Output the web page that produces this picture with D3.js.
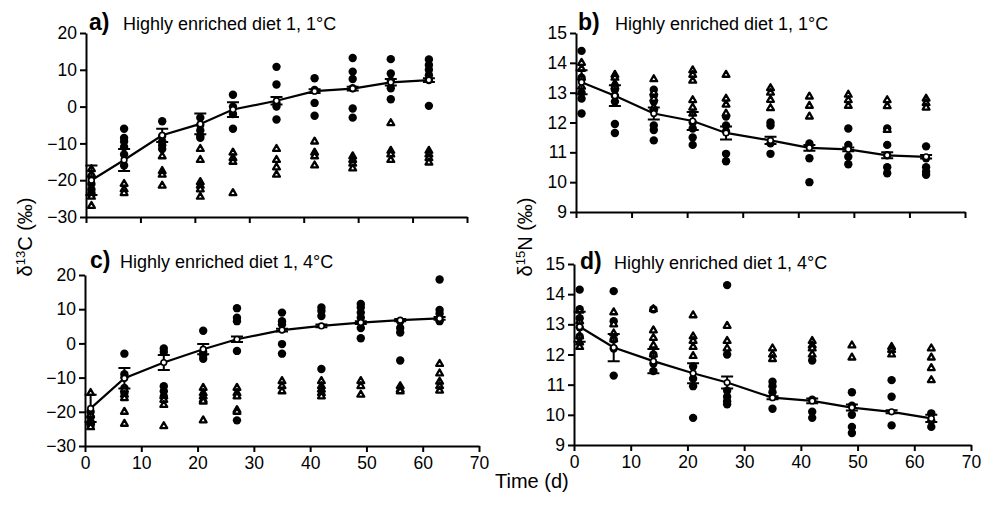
<!DOCTYPE html>
<html>
<head>
<meta charset="utf-8">
<script src="https://cdn.jsdelivr.net/npm/d3@7"></script>
<style>
  body { margin: 0; background: #fff; }
  svg text { font-family: "Liberation Sans", Arial, sans-serif; fill: #000; }
</style>
</head>
<body>
<div id="chart"></div>
<script>
// sampling days
const days = [1, 7, 14, 21, 27, 35, 42, 49, 56, 63];

// a) d13C, 1 C
const aMean = [-20, -14.5, -7.8, -4.7, -0.8, 1.6, 4.2, 4.9, 6.6, 7.2];
const aErr = [4, 3, 1.8, 2.8, 2, 1, 0.5, 0.5, 0.9, 0.5];
const aCircles = [
  [-19, -21, -22.5, -23.5, -24],
  [-6, -8.5, -9.5, -11, -13, -16],
  [-4, -8, -9.5, -10.5, -11.5],
  [-3, -5, -6.5, -8, -8.5],
  [3.2, 0, -2, -6],
  [10.8, 6, 1, 0, -3.5],
  [7.7, 4.5, 1, -2.5],
  [13.2, 9.5, 7.5, 5, -0.5, -3],
  [12.9, 9, 7, 5, 2],
  [12.8, 11.3, 10, 8.5, 7.2, 0.2]
];
const aTriangles = [
  [-17, -18.5, -24.5, -27],
  [-21, -22.5, -23.5],
  [-13.5, -17.5, -18.5, -21.5],
  [-11.5, -14.5, -20.5, -21.5, -22.5, -24.5],
  [-12.5, -14, -15, -23.5],
  [-11.5, -14.5, -16.5, -18.5],
  [-9.5, -12.5, -13.5, -16],
  [-13.5, -14.5, -15.5, -16.8],
  [-4.5, -12, -13, -14.5],
  [-12, -13, -14, -15.2]
];

// b) d15N, 1 C
const bMean = [13.35, 12.9, 12.3, 12.05, 11.65, 11.4, 11.15, 11.1, 10.9, 10.85];
const bErr = [0.4, 0.35, 0.2, 0.3, 0.22, 0.12, 0.1, 0.06, 0.1, 0.06];
const bCircles = [
  [14.4, 13.5, 13.0, 12.8, 12.3],
  [13.1, 12.9, 12.7, 11.95, 11.65],
  [13.1, 12.9, 12.7, 12.4, 11.9, 11.75, 11.4],
  [12.0, 11.8, 11.5, 11.25],
  [12.2, 11.9, 11.7, 10.95, 10.7],
  [12.0, 11.9, 11.3, 10.95],
  [11.3, 11.2, 10.8, 10.0],
  [11.8, 11.25, 10.85, 10.6],
  [11.8, 11.25, 10.9, 10.5, 10.3],
  [11.2, 10.8, 10.5, 10.35, 10.25]
];
const bTriangles = [
  [14.0, 13.8, 13.5, 13.2],
  [13.6, 13.5, 13.3, 13.2],
  [13.45, 13.0, 12.8, 12.5],
  [13.75, 13.6, 13.4, 12.75, 12.5, 12.3],
  [13.6, 12.8, 12.6, 12.3],
  [13.15, 13.0, 12.76, 12.48],
  [12.87, 12.56, 12.2],
  [12.93, 12.75, 12.56],
  [12.75, 12.55, 11.75],
  [12.8, 12.65, 12.5]
];

// c) d13C, 4 C
const cMean = [-19, -10.2, -5.6, -1.7, 1.2, 3.9, 5.1, 6.1, 6.8, 7.3];
const cErr = [4, 3, 2.2, 1.5, 0.8, 0.4, 0.4, 0.4, 0.3, 0.4];
const cCircles = [
  [-20, -21.5, -23, -24],
  [-3, -9, -10, -13, -14.5],
  [-1.5, -2.5, -12.5, -14, -15.5],
  [3.7, -2.5, -3.5, -4.5],
  [10.3, 7.5, 6.5, -2.2, -22.5],
  [9, 6.5, 5.5, -0.2, -3],
  [10.5, 9.5, 8, -7.5],
  [11.5, 10.5, 9, 7.5, 4.5, 1.5],
  [6.5, 4.5, 3.2, -5],
  [18.7, 9.8, 8.7, 7, 6.5]
];
const cTriangles = [
  [-14.5, -21, -23, -24.5],
  [-13.5, -15, -16, -20, -23.5],
  [-15.5, -16.5, -18, -24.2],
  [-13, -14.5, -15.5, -16.5, -17, -22.5],
  [-13, -14.5, -15.5, -19.5, -20],
  [-11, -12.5, -14],
  [-11, -12.5, -13.5, -14.5, -15.5],
  [-11, -12.5, -15],
  [-12.5, -13.5, -14],
  [-6, -8.8, -11.2, -12.5, -13.8]
];

// d) d15N, 4 C
const dMean = [12.92, 12.23, 11.78, 11.38, 11.07, 10.57, 10.46, 10.24, 10.1, 9.88];
const dErr = [0.5, 0.45, 0.4, 0.33, 0.2, 0.05, 0.08, 0.1, 0.05, 0.12];
const dCircles = [
  [14.15, 13.5, 13.2, 12.9, 12.6],
  [14.1, 13.1, 12.5, 12.2, 11.3],
  [13.5, 12.0, 11.7, 11.45],
  [11.6, 11.2, 10.95, 9.9],
  [14.3, 12.0, 10.8, 10.6, 10.45, 10.35],
  [11.1, 10.95, 10.75, 10.2],
  [11.8, 10.5, 10.1, 9.9],
  [10.75, 10.3, 10.0, 9.6, 9.4],
  [11.15, 10.6, 9.65],
  [10.05, 9.8, 9.6]
];
const dTriangles = [
  [13.45, 13.1, 12.6, 12.4, 12.25],
  [13.4, 13.0, 12.7, 12.5],
  [13.5, 12.8, 12.55, 12.3, 12.0],
  [13.3, 12.6, 12.45, 12.25, 11.95],
  [12.95, 12.45, 12.2],
  [12.2, 12.0, 11.85],
  [12.45, 12.3, 12.2, 12.0],
  [12.3, 11.9],
  [12.25, 12.15, 12.0],
  [12.2, 11.9, 11.55, 11.15]
];

const xTicks = [0, 10, 20, 30, 40, 50, 60, 70];

const width = 982, height = 505;
const svg = d3.select("#chart").append("svg")
  .attr("width", width)
  .attr("height", height);

// one panel = one block of scales, axes and marks
function drawPanel(p) {
  const x = d3.scaleLinear().domain([0, 70]).range([p.x0, p.x1]);
  const y = d3.scaleLinear().domain(p.yDomain).range([p.y0, p.y1]);
  const g = svg.append("g");

  const yAxis = g.append("g")
    .attr("transform", `translate(${p.x0},0)`)
    .call(d3.axisLeft(y).tickValues(p.yTicks).tickFormat(d3.format("d"))
      .tickSize(6).tickPadding(3).tickSizeOuter(0));
  const xAxis = g.append("g")
    .attr("transform", `translate(0,${p.y0})`)
    .call(d3.axisBottom(x).tickValues(xTicks).tickSize(6).tickPadding(5).tickSizeOuter(0));
  if (!p.xLabels) xAxis.selectAll("text").remove();
  [xAxis, yAxis].forEach(a => {
    a.selectAll("path, line").attr("stroke", "#000").attr("stroke-width", 2);
    a.selectAll("text").style("font-size", "17.5px").attr("fill", "#000");
  });

  // raw points
  const circ = [], tri = [];
  days.forEach((d, i) => {
    p.circles[i].forEach(v => circ.push({d, v}));
    p.triangles[i].forEach(v => tri.push({d, v}));
  });
  g.selectAll(".dot").data(circ).join("circle")
    .attr("cx", e => x(e.d)).attr("cy", e => y(e.v))
    .attr("r", 4.2).attr("fill", "#000");
  const triPath = d3.symbol(d3.symbolTriangle, 20)();
  g.selectAll(".tri").data(tri).join("path")
    .attr("d", triPath)
    .attr("transform", e => `translate(${x(e.d)},${y(e.v)})`)
    .attr("fill", "#fff").attr("stroke", "#000").attr("stroke-width", 2.3)
    .attr("stroke-linejoin", "round");

  // error bars
  const eb = days.map((d, i) => ({d, m: p.mean[i], e: p.err[i]}));
  g.selectAll(".eb").data(eb).join("path")
    .attr("d", e => {
      const cx = x(e.d), hi = y(e.m + e.e), lo = y(e.m - e.e);
      return `M${cx},${hi}V${lo}M${cx - 6},${hi}H${cx + 6}M${cx - 6},${lo}H${cx + 6}`;
    })
    .attr("stroke", "#000").attr("stroke-width", 2).attr("fill", "none");

  // mean line
  g.append("path").datum(eb)
    .attr("d", d3.line().x(e => x(e.d)).y(e => y(e.m)))
    .attr("fill", "none").attr("stroke", "#000").attr("stroke-width", 2.2);
  g.selectAll(".mean").data(eb).join("circle")
    .attr("cx", e => x(e.d)).attr("cy", e => y(e.m))
    .attr("r", 2.8).attr("fill", "#fff").attr("stroke", "#000").attr("stroke-width", 1.6);

  // panel title
  g.append("text").attr("x", p.tx).attr("y", p.ty)
    .style("font-size", "23px").style("font-weight", "bold").text(p.letter);
  g.append("text").attr("x", p.tx2).attr("y", p.ty)
    .style("font-size", "18px").text(p.title);
}

drawPanel({x0: 86, x1: 467, y0: 217, y1: 33, yDomain: [-30, 20], yTicks: [-30, -20, -10, 0, 10, 20],
  mean: aMean, err: aErr, circles: aCircles, triangles: aTriangles, xLabels: false,
  letter: "a)", title: "Highly enriched diet 1, 1°C", tx: 89, tx2: 123, ty: 30});
drawPanel({x0: 576, x1: 965, y0: 212, y1: 33, yDomain: [9, 15], yTicks: [9, 10, 11, 12, 13, 14, 15],
  mean: bMean, err: bErr, circles: bCircles, triangles: bTriangles, xLabels: false,
  letter: "b)", title: "Highly enriched diet 1, 1°C", tx: 578, tx2: 615, ty: 30});
drawPanel({x0: 85, x1: 479, y0: 446, y1: 275, yDomain: [-30, 20], yTicks: [-30, -20, -10, 0, 10, 20],
  mean: cMean, err: cErr, circles: cCircles, triangles: cTriangles, xLabels: true,
  letter: "c)", title: "Highly enriched diet 1, 4°C", tx: 90, tx2: 120, ty: 268});
drawPanel({x0: 574, x1: 971, y0: 445, y1: 264, yDomain: [9, 15], yTicks: [9, 10, 11, 12, 13, 14, 15],
  mean: dMean, err: dErr, circles: dCircles, triangles: dTriangles, xLabels: true,
  letter: "d)", title: "Highly enriched diet 1, 4°C", tx: 580, tx2: 614, ty: 269});

// axis titles
function yTitle(cx, cy, sup, elem) {
  const t = svg.append("text")
    .attr("transform", `translate(${cx},${cy}) rotate(-90)`)
    .attr("text-anchor", "middle").style("font-size", "20px");
  t.append("tspan").text("δ");
  t.append("tspan").attr("dy", -7).style("font-size", "13px").text(sup);
  t.append("tspan").attr("dy", 7).text(elem + " (‰)");
}
yTitle(32, 237, "13", "C");
yTitle(532, 237, "15", "N");

svg.append("text").attr("x", 495).attr("y", 488)
  .style("font-size", "20px").text("Time (d)");
</script>
</body>
</html>
